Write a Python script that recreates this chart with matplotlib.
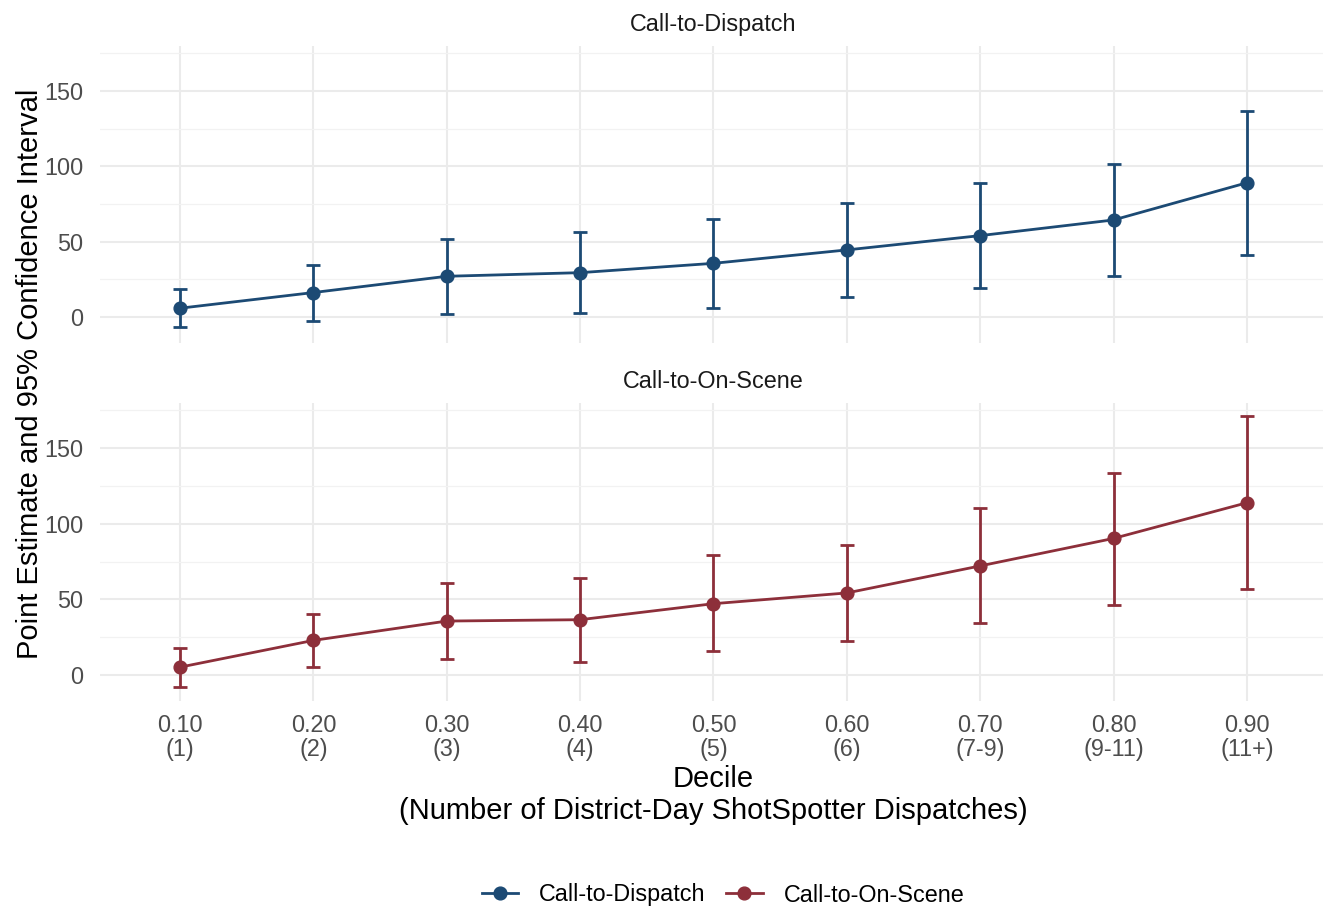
import matplotlib
matplotlib.use("Agg")
import matplotlib.pyplot as plt
from matplotlib.lines import Line2D
import numpy as np

plt.rcParams['font.family'] = ['Liberation Sans', 'DejaVu Sans']

deciles = ["0.10", "0.20", "0.30", "0.40", "0.50", "0.60", "0.70", "0.80", "0.90"]
counts = ["(1)", "(2)", "(3)", "(4)", "(5)", "(6)", "(7-9)", "(9-11)", "(11+)"]

dispatch_est = [5.8, 16.2, 27.0, 29.4, 35.6, 44.5, 54.0, 64.4, 89.1]
dispatch_lo = [-6.9, -2.7, 2.0, 2.4, 5.8, 13.1, 19.0, 27.0, 41.0]
dispatch_hi = [18.4, 34.8, 52.0, 56.2, 65.3, 75.7, 89.1, 101.5, 136.9]

onscene_est = [5.1, 22.8, 35.6, 36.5, 47.1, 54.2, 72.1, 90.3, 113.9]
onscene_lo = [-8.2, 5.3, 10.2, 8.6, 15.5, 22.6, 34.1, 46.5, 56.9]
onscene_hi = [17.9, 40.3, 61.1, 64.2, 79.0, 86.1, 110.4, 133.6, 171.0]

panels = ["Call-to-Dispatch", "Call-to-On-Scene"]
colors = ["#1C4A74", "#8D2F3A"]

W, H = 1323, 907
fig = plt.figure(figsize=(W / 100, H / 100), dpi=100)

def fx(px):
    return px / W

def fy(py):
    return 1 - py / H

panel_px = [(46, 343), (403, 701)]
left_px, right_px = 100, 1327

series = [
    (dispatch_est, dispatch_lo, dispatch_hi),
    (onscene_est, onscene_lo, onscene_hi),
]

x = np.arange(len(deciles))
tick_fs = 16.8
title_fs = 21
lw = 2.0

for i, (top, bot) in enumerate(panel_px):
    ax = fig.add_axes([fx(left_px), fy(bot), fx(right_px) - fx(left_px), (bot - top) / H])
    est, lo, hi = series[i]
    est = np.array(est); lo = np.array(lo); hi = np.array(hi)
    ax.errorbar(x, est, yerr=[est - lo, hi - est], color=colors[i], fmt='-o',
                lw=lw, elinewidth=lw, capsize=5, capthick=lw, ms=9.2, zorder=3)
    ax.set_xlim(-0.6, len(deciles) - 1 + 0.6)
    ax.set_ylim(-17.3, 179.9)
    ax.set_yticks([0, 50, 100, 150])
    ax.set_yticks([25, 75, 125, 175], minor=True)
    ax.set_xticks(x)
    ax.grid(which='major', color='#EBEBEB', lw=1.5, zorder=0)
    ax.grid(which='minor', axis='y', color='#F2F2F2', lw=0.9, zorder=0)
    ax.set_axisbelow(True)
    for s in ax.spines.values():
        s.set_visible(False)
    ax.tick_params(which='both', length=0, labelsize=tick_fs, labelcolor='#4D4D4D', pad=10)
    ax.tick_params(axis='y', pad=12)
    if i == 0:
        ax.set_xticklabels([])
    else:
        ax.set_xticklabels([f"{d}\n{c}" for d, c in zip(deciles, counts)], linespacing=1.1)
        ax.tick_params(axis='x', pad=9)
    strip_y = [24, 382][i]
    fig.text(fx(713), fy(strip_y), panels[i], ha='center', va='center',
             fontsize=tick_fs, color='#1A1A1A')

fig.text(fx(713), fy(795), "Decile\n(Number of District-Day ShotSpotter Dispatches)",
         ha='center', va='center', fontsize=title_fs, color='black', linespacing=1.17)
fig.text(fx(30), fy(374), "Point Estimate and 95% Confidence Interval",
         ha='center', va='center', rotation=90, fontsize=title_fs, color='black')

handles = [Line2D([0], [0], color=c, lw=lw, marker='o', ms=9.2) for c in colors]
fig.legend(handles, panels, loc='center', bbox_to_anchor=(fx(723), fy(895)), ncol=2,
           frameon=False, fontsize=tick_fs, handlelength=1.55, handletextpad=0.9,
           columnspacing=0.9)

fig.savefig("out.png", dpi=100)
